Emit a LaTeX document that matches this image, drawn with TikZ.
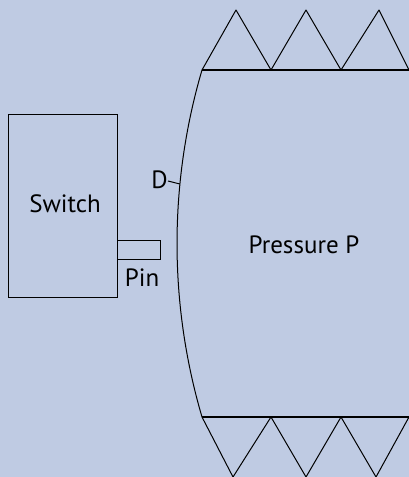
\documentclass[tikz,border=0pt]{standalone}
\usepackage{fontspec}
\setmainfont{PT Sans}
\definecolor{bgblue}{RGB}{191,203,227}
\begin{document}
\begin{tikzpicture}[x=1pt,y=-1pt,
  line/.style={draw=black,line width=1pt,line join=round},
  edge/.style={draw=black,line width=1.6pt},
  box/.style={draw=black,line width=1pt,inner sep=0pt,minimum width=#1},
  lbl/.style={font=\fontsize{25}{30}\selectfont,inner sep=0pt,anchor=base}]
\fill[bgblue] (0,0) rectangle (409,477);
\useasboundingbox (0,0) rectangle (409,477);
% switch and pin
\node[box=109pt,minimum height=183pt] (switch) at (62.5,205.5) {};
\node[box=43pt,minimum height=19pt] (pin) at (138.5,249.5) {};
% labels
\node[lbl] (tswitch) at (65,212) {Switch};
\node[lbl] (tpin) at (142,286) {Pin};
\node[lbl] (td) at (159.5,188) {D};
\node[lbl] (tpress) at (304,253) {Pressure P};
% diaphragm
\coordinate (dtop) at (202,70);
\coordinate (dbot) at (202,417);
\coordinate (dmark) at (179.9,184);
\draw[line] (dtop) .. controls (168.7,183.3) and (168.7,303.7) .. (dbot);
\draw[line] (168,181) -- (dmark);
% top and bottom plates
\coordinate (tr) at (409,70);
\coordinate (br) at (409,417);
\draw[edge] (dtop) -- (tr);
\draw[edge] (dbot) -- (br);
% top triangles
\draw[line] (202,70) -- (236,10) -- (271,70) -- (306,10) -- (341,70) -- (379,10) -- (409,70);
% bottom triangles
\draw[line] (202,417) -- (233,477) -- (271,417) -- (306,477) -- (341,417) -- (376,477) -- (409,417);
\end{tikzpicture}
\end{document}
